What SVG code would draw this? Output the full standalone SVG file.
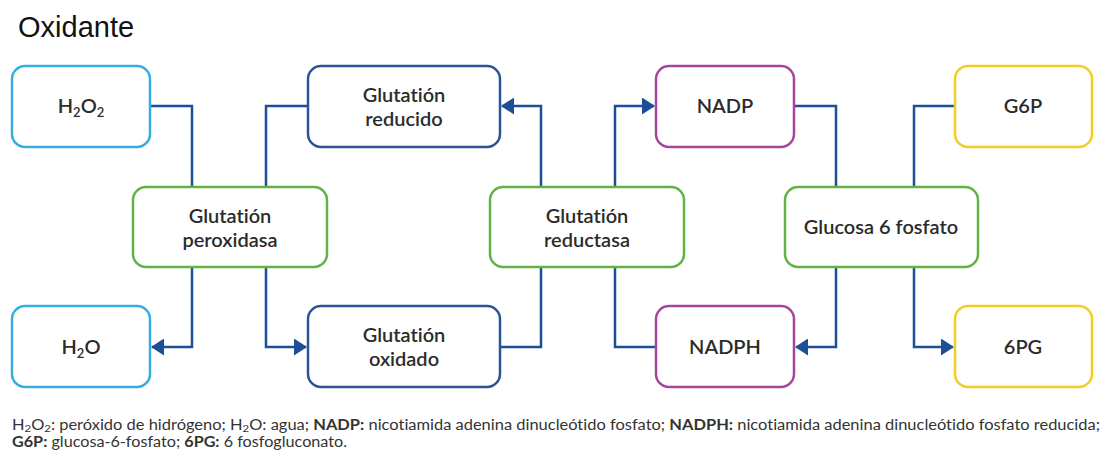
<svg xmlns="http://www.w3.org/2000/svg" width="1106" height="452" viewBox="0 0 1106 452">
<defs>
<style>
.box{fill:#fff;stroke-width:2.5}
.lb{stroke:#35ace2}.db{stroke:#2b5597}.gr{stroke:#63b245}.mg{stroke:#a5469c}.ye{stroke:#f3cd22}
.t{font-family:Lato,"Open Sans","Liberation Sans",sans-serif;font-size:20px;font-weight:600;fill:#2b2b2b;text-anchor:middle;font-variant-ligatures:none;font-feature-settings:"liga" 0,"dlig" 0}
.c{fill:none;stroke:#1c4f96;stroke-width:2.5}
.f{font-family:Lato,"Open Sans","Liberation Sans",sans-serif;font-size:14.5px;fill:#333;font-variant-ligatures:none;font-feature-settings:"liga" 0,"dlig" 0}
</style>
<marker id="ar" viewBox="0 0 13 17" refX="12" refY="8.5" markerWidth="13" markerHeight="17" orient="auto" markerUnits="userSpaceOnUse">
<path d="M0,0 L13,8.5 L0,17 z" fill="#1c4f96"/>
</marker>
</defs>
<rect width="1106" height="452" fill="#fff"/>
<text x="18" y="37" font-family="'Liberation Sans',Arial,sans-serif" font-size="29" fill="#111">Oxidante</text>

<g id="connectors">
<path class="c" d="M150,106 H192 V187"/>
<path class="c" d="M266,187 V106 H308"/>
<path class="c" d="M192,267 V347 H152" marker-end="url(#ar)"/>
<path class="c" d="M266,267 V347 H306" marker-end="url(#ar)"/>
<path class="c" d="M500,347 H541 V267"/>
<path class="c" d="M541,187 V106 H502" marker-end="url(#ar)"/>
<path class="c" d="M615,187 V106 H654" marker-end="url(#ar)"/>
<path class="c" d="M615,267 V347 H656"/>
<path class="c" d="M794,106 H836 V187"/>
<path class="c" d="M836,267 V347 H796" marker-end="url(#ar)"/>
<path class="c" d="M955,106 H914 V187"/>
<path class="c" d="M914,267 V347 H953" marker-end="url(#ar)"/>
</g>

<g id="h2o2"><rect class="box lb" x="12" y="66" width="138" height="81" rx="13"/>
<text class="t" x="81" y="113">H<tspan font-size="13" dy="4">2</tspan><tspan dy="-4">O</tspan><tspan font-size="13" dy="4">2</tspan></text></g>
<g id="h2o"><rect class="box lb" x="12" y="306" width="138" height="81" rx="13"/>
<text class="t" x="81" y="354">H<tspan font-size="13" dy="4">2</tspan><tspan dy="-4">O</tspan></text></g>
<g id="gsh"><rect class="box db" x="308" y="66" width="192" height="81" rx="13"/>
<text class="t" x="404" y="102">Glutatión</text><text class="t" x="404" y="126">reducido</text></g>
<g id="gssg"><rect class="box db" x="308" y="306" width="192" height="81" rx="13"/>
<text class="t" x="404" y="342">Glutatión</text><text class="t" x="404" y="366">oxidado</text></g>
<g id="gpx"><rect class="box gr" x="133" y="187" width="194" height="80" rx="13"/>
<text class="t" x="230" y="223">Glutatión</text><text class="t" x="230" y="247">peroxidasa</text></g>
<g id="gr"><rect class="box gr" x="490" y="187" width="194" height="80" rx="13"/>
<text class="t" x="587" y="223">Glutatión</text><text class="t" x="587" y="247">reductasa</text></g>
<g id="nadp"><rect class="box mg" x="656" y="66" width="138" height="81" rx="13"/>
<text class="t" x="725" y="113">NADP</text></g>
<g id="nadph"><rect class="box mg" x="656" y="306" width="138" height="81" rx="13"/>
<text class="t" x="725" y="354">NADPH</text></g>
<g id="g6pd"><rect class="box gr" x="785" y="187" width="193" height="80" rx="13"/>
<text class="t" x="881" y="234">Glucosa 6 fosfato</text></g>
<g id="g6p"><rect class="box ye" x="955" y="66" width="137" height="81" rx="13"/>
<text class="t" x="1023" y="113">G6P</text></g>
<g id="pg6"><rect class="box ye" x="955" y="306" width="137" height="81" rx="13"/>
<text class="t" x="1023" y="354">6PG</text></g>

<text class="f" x="12" y="430" textLength="1088" lengthAdjust="spacingAndGlyphs">H<tspan font-size="10" dy="2">2</tspan><tspan dy="-2">O</tspan><tspan font-size="10" dy="2">2</tspan><tspan dy="-2">: peróxido de hidrógeno; H</tspan><tspan font-size="10" dy="2">2</tspan><tspan dy="-2">O: agua; </tspan><tspan font-weight="bold">NADP:</tspan> nicotiamida adenina dinucleótido fosfato; <tspan font-weight="bold">NADPH:</tspan> nicotiamida adenina dinucleótido fosfato reducida;</text>
<text class="f" x="12" y="447" textLength="335" lengthAdjust="spacingAndGlyphs"><tspan font-weight="bold">G6P:</tspan> glucosa-6-fosfato; <tspan font-weight="bold">6PG:</tspan> 6 fosfogluconato.</text>
</svg>
